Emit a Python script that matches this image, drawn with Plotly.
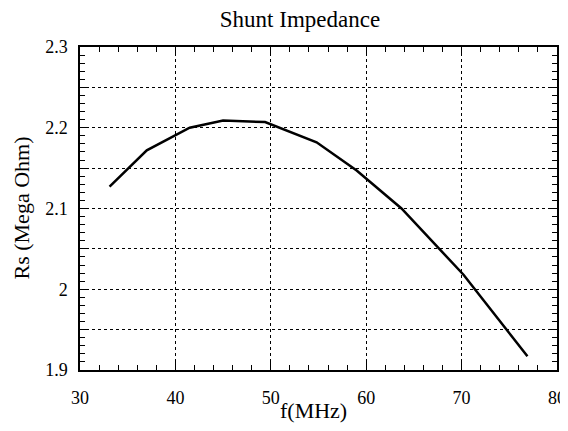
import plotly.graph_objects as go

freq_mhz = [33.1, 37.0, 41.5, 45.0, 49.4, 54.8, 59.0, 63.7, 70.2, 76.9]
rs_mohm = [2.127, 2.172, 2.200, 2.209, 2.207, 2.182, 2.147, 2.100, 2.018, 1.917]

x_ticks = [30, 40, 50, 60, 70, 80]
y_ticks = [1.9, 1.95, 2.0, 2.05, 2.1, 2.15, 2.2, 2.25, 2.3]
y_tick_text = ["1.9", "", "2", "", "2.1", "", "2.2", "", "2.3"]

FONT = "Liberation Serif, Times New Roman, serif"

# page body has an 8px default margin; keep the figure inside the viewport
W, H, OFF = 560, 415, 8

fig = go.Figure()
fig.add_trace(go.Scatter(x=freq_mhz, y=rs_mohm, mode="lines",
                         line=dict(color="black", width=2.5), showlegend=False))

axis_common = dict(
    showline=True, linecolor="black", linewidth=1.5, mirror="allticks",
    ticks="inside", ticklen=8, tickwidth=1, tickcolor="black",
    showgrid=True, gridcolor="black", griddash="dot", gridwidth=1,
    zeroline=False, tickfont=dict(family=FONT, size=18, color="black"),
    automargin=False,
)

fig.update_xaxes(range=[30, 80], tickvals=x_ticks, ticktext=[str(v) for v in x_ticks],
                 minor=dict(dtick=2, ticks="inside", ticklen=5, tickcolor="black", showgrid=False),
                 ticklabelstandoff=11, **axis_common)
fig.update_yaxes(range=[1.9, 2.3], tickvals=y_ticks, ticktext=y_tick_text,
                 minor=dict(dtick=0.01, ticks="inside", ticklen=5, tickcolor="black", showgrid=False),
                 ticklabelstandoff=7, **axis_common)

fig.add_annotation(text="f(MHz)", xref="paper", yref="paper", x=0.49, y=0,
                   yshift=-40, xanchor="center", yanchor="middle", showarrow=False,
                   font=dict(family=FONT, size=22, color="black"))
fig.add_annotation(text="Rs (Mega Ohm)", xref="paper", yref="paper", x=0, y=0.5,
                   xshift=-59, xanchor="center", yanchor="middle", textangle=-90, showarrow=False,
                   font=dict(family=FONT, size=22, color="black"))

fig.update_layout(
    width=W, height=H,
    margin=dict(l=80 - OFF, r=11, t=47 - OFF, b=H + OFF - 370),
    paper_bgcolor="white", plot_bgcolor="white",
    title=dict(text="Shunt Impedance", font=dict(family=FONT, size=23, color="black"),
               x=(300 - OFF) / W, xanchor="center", y=1 - (19 - OFF) / H, yanchor="middle"),
)

fig.write_html("out.html")
